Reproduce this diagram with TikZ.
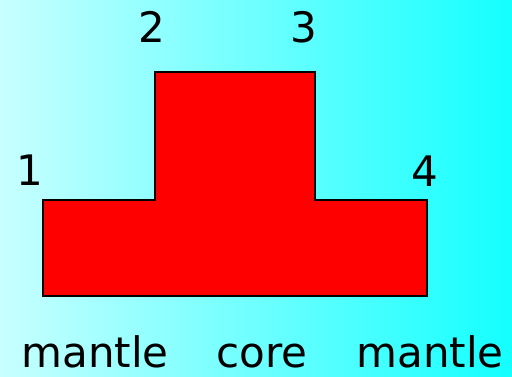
\documentclass[tikz,border=0pt]{standalone}
\usepackage{fontspec}
\setmainfont{DejaVu Sans}
\begin{document}
\begin{tikzpicture}[x=1pt,y=-1pt,
  lbl/.style={font=\fontsize{42}{42}\selectfont, anchor=base, inner sep=0pt, text=black},
  tshape/.style={fill=red, draw=black, line width=1.5pt, line join=miter}]
\useasboundingbox (0,0) rectangle (512,376);
\shade[left color={rgb,255:red,200;green,255;blue,255}, right color={rgb,255:red,20;green,255;blue,255}] (0,0) rectangle (512,376);
\draw[tshape] (43,200) -- (155,200) -- (155,72) -- (315,72) -- (315,200) -- (427,200) -- (427,296) -- (43,296) -- cycle;
\node[lbl] (n1) at (30,185) {1};
\node[lbl] (n2) at (152,42) {2};
\node[lbl] (n3) at (304,42) {3};
\node[lbl] (n4) at (425,186) {4};
\node[lbl] (m1) at (95,367) {mantle};
\node[lbl] (c) at (262,367) {core};
\node[lbl] (m2) at (430,367) {mantle};
\end{tikzpicture}
\end{document}
